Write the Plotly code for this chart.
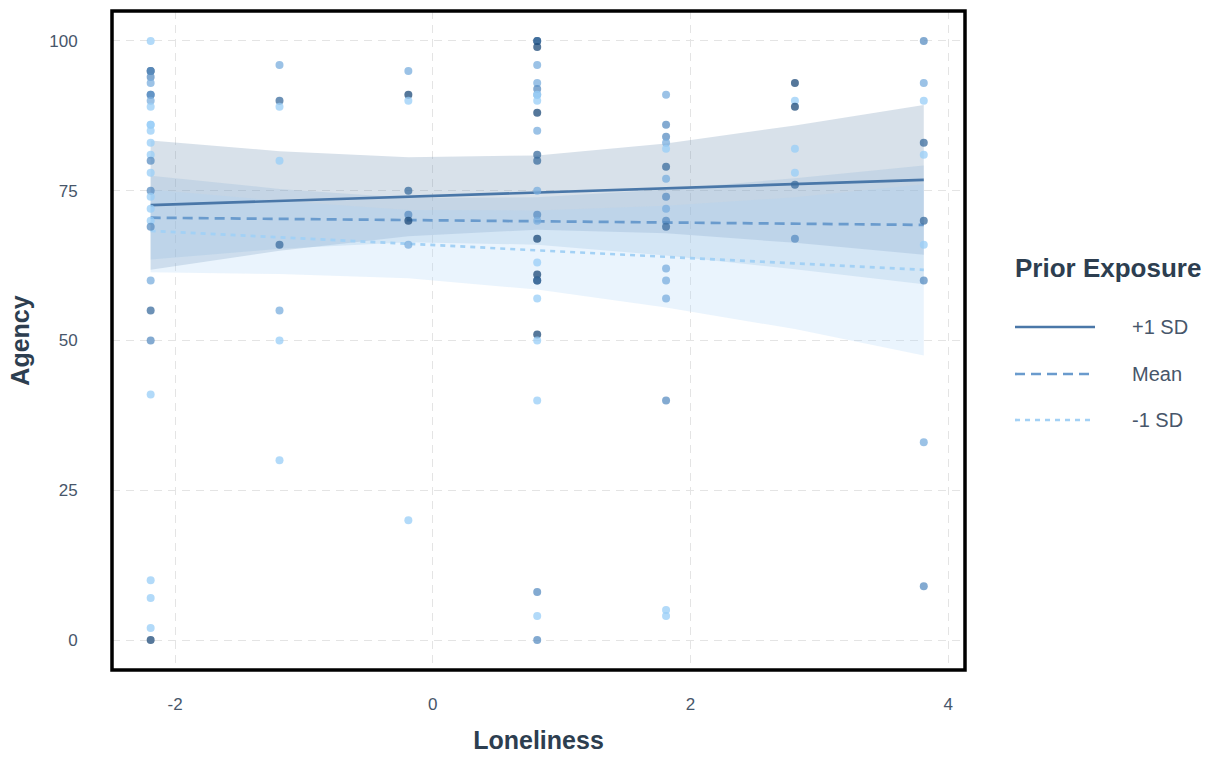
import plotly.graph_objects as go

# ---------------- data ----------------
loneliness_grid = [-2.19, -1.19, -0.19, 0.81, 1.81, 2.81, 3.81]

fit_plus = [72.6, 73.3, 74.0, 74.7, 75.4, 76.1, 76.8]
lo_plus = [61.8, 65.0, 67.4, 68.5, 67.9, 66.3, 64.3]
hi_plus = [83.4, 81.6, 80.6, 80.9, 82.9, 85.9, 89.3]

fit_mean = [70.5, 70.3, 70.1, 69.9, 69.7, 69.5, 69.3]
lo_mean = [63.5, 65.3, 66.4, 66.0, 64.2, 61.9, 59.4]
hi_mean = [77.5, 75.3, 73.8, 73.9, 75.2, 77.1, 79.2]

fit_minus = [68.3, 67.2, 66.1, 65.1, 64.0, 62.9, 61.8]
lo_minus = [61.4, 61.1, 60.4, 58.5, 55.5, 51.9, 47.5]
hi_minus = [75.2, 73.3, 71.8, 71.7, 72.5, 73.9, 76.1]

# observed points: (loneliness, agency, prior exposure shade 1=low .. 5=high)
pts_x = ([-2.19] * 29 + [-1.19] * 8 + [-0.19] * 8 + [0.81] * 28 +
         [1.81] * 17 + [2.81] * 7 + [3.81] * 10)
pts_y = [
    100, 95, 95, 94, 93, 91, 91, 90, 89, 86, 86, 85, 83, 81, 80, 78, 75, 74, 72, 70, 69, 60, 55, 50, 41, 10, 7, 2, 0,
    96, 90, 89, 80, 66, 55, 50, 30,
    95, 91, 90, 75, 71, 70, 66, 20,
    100, 100, 99, 96, 93, 92, 91, 91, 90, 88, 85, 81, 80, 75, 71, 70, 67, 63, 61, 60, 60, 57, 51, 50, 40, 8, 4, 0,
    91, 86, 84, 83, 82, 79, 77, 74, 72, 70, 69, 62, 60, 57, 40, 5, 4,
    93, 90, 89, 82, 78, 76, 67,
    100, 93, 90, 83, 81, 70, 66, 60, 33, 9,
]
pts_exposure = [
    1, 5, 3, 3, 2, 3, 3, 2, 1, 1, 1, 1, 1, 1, 3, 1, 3, 1, 1, 1, 3, 2, 4, 3, 1, 1, 1, 1, 5,
    2, 4, 1, 1, 4, 2, 1, 1,
    2, 5, 1, 4, 3, 5, 2, 1,
    5, 4, 5, 2, 2, 3, 2, 1, 1, 5, 2, 4, 4, 2, 3, 2, 5, 1, 5, 5, 4, 1, 5, 1, 1, 3, 1, 3,
    2, 3, 3, 2, 1, 4, 2, 3, 2, 3, 4, 2, 2, 2, 3, 1, 1,
    5, 1, 5, 1, 1, 4, 3,
    3, 2, 1, 4, 1, 4, 1, 3, 2, 3,
]

x_ticks = [-2, 0, 2, 4]
y_ticks = [0, 25, 50, 75, 100]
legend_labels = ["+1 SD", "Mean", "-1 SD"]

# ---------------- styling ----------------
W, H = 1211, 757
L, R, T, B = 112, 965, 11, 670  # plot area in pixels

def px(xp):
    return (xp - L) / (R - L)

def py(yp):
    return (B - yp) / (B - T)

FONT = "Liberation Sans, Arial, sans-serif"
col_plus = "#4a77a8"
col_mean = "#6a9bcd"
col_minus = "#a3d1f5"

fig = go.Figure()

ribbons = [
    (lo_plus, hi_plus, "rgba(99,135,171,0.25)"),
    (lo_mean, hi_mean, "rgba(138,180,217,0.25)"),
    (lo_minus, hi_minus, "rgba(171,211,247,0.25)"),
]
for lo, hi, fc in ribbons:
    fig.add_trace(go.Scatter(x=loneliness_grid, y=lo, mode="lines",
                             line=dict(width=0), showlegend=False, hoverinfo="skip"))
    fig.add_trace(go.Scatter(x=loneliness_grid, y=hi, mode="lines", fill="tonexty",
                             fillcolor=fc, line=dict(width=0), showlegend=False,
                             hoverinfo="skip"))

lines = [
    (fit_plus, col_plus, "solid", legend_labels[0]),
    (fit_mean, col_mean, "10px,6px", legend_labels[1]),
    (fit_minus, col_minus, "5px,5px", legend_labels[2]),
]
for fit, c, d, name in lines:
    fig.add_trace(go.Scatter(x=loneliness_grid, y=fit, mode="lines", name=name,
                             line=dict(color=c, width=2.7, dash=d), showlegend=False))

fig.add_trace(go.Scatter(
    x=pts_x, y=pts_y, mode="markers", showlegend=False,
    marker=dict(size=8, color=pts_exposure, cmin=1, cmax=5,
                colorscale=[[0, "#98cdf7"], [0.5, "#5a8dc2"], [1, "#1c4a78"]],
                opacity=0.75, line=dict(width=0)),
))

tick_font = dict(family=FONT, size=17, color="#47566a")
title_font = dict(family=FONT, size=25, color="#2d3e50")

fig.update_xaxes(range=[-2.49, 4.13], tickvals=x_ticks, ticktext=[str(v) for v in x_ticks],
                 showgrid=True, gridcolor="#e4e4e4", griddash="8px,6px", gridwidth=1.4,
                 zeroline=False, showline=False, ticks="outside", ticklen=19,
                 tickcolor="rgba(0,0,0,0)", tickfont=tick_font,
                 title=dict(text="<b>Loneliness</b>", font=title_font, standoff=18))
fig.update_yaxes(range=[-5, 105], tickvals=y_ticks, ticktext=[str(v) for v in y_ticks],
                 showgrid=True, gridcolor="#e4e4e4", griddash="8px,6px", gridwidth=1.4,
                 zeroline=False, showline=False, ticks="outside", ticklen=30,
                 tickcolor="rgba(0,0,0,0)", tickfont=tick_font,
                 title=dict(text="<b>Agency</b>", font=title_font, standoff=12))

shapes = [dict(type="rect", xref="paper", yref="paper", x0=0, x1=1, y0=0, y1=1,
               line=dict(color="black", width=3.5), layer="above")]
annotations = [dict(xref="paper", yref="paper", x=px(1013), y=py(268), xanchor="left",
                    yanchor="middle", showarrow=False, text="<b>Prior Exposure</b>",
                    font=dict(family=FONT, size=26, color="#2d3e50"))]
leg_y = [327, 374, 420]
for (fit, c, d, name), yy in zip(lines, leg_y):
    shapes.append(dict(type="line", xref="paper", yref="paper", x0=px(1015), x1=px(1095),
                       y0=py(yy), y1=py(yy), line=dict(color=c, width=2.7, dash=d)))
    annotations.append(dict(xref="paper", yref="paper", x=px(1130), y=py(yy),
                            xanchor="left", yanchor="middle", showarrow=False, text=name,
                            font=dict(family=FONT, size=20, color="#47566a")))

fig.update_layout(width=W, height=H, margin=dict(l=L, r=W - R, t=T, b=H - B, autoexpand=False),
                  plot_bgcolor="white", paper_bgcolor="white", shapes=shapes,
                  annotations=annotations, showlegend=False)

fig.write_html("out.html")
